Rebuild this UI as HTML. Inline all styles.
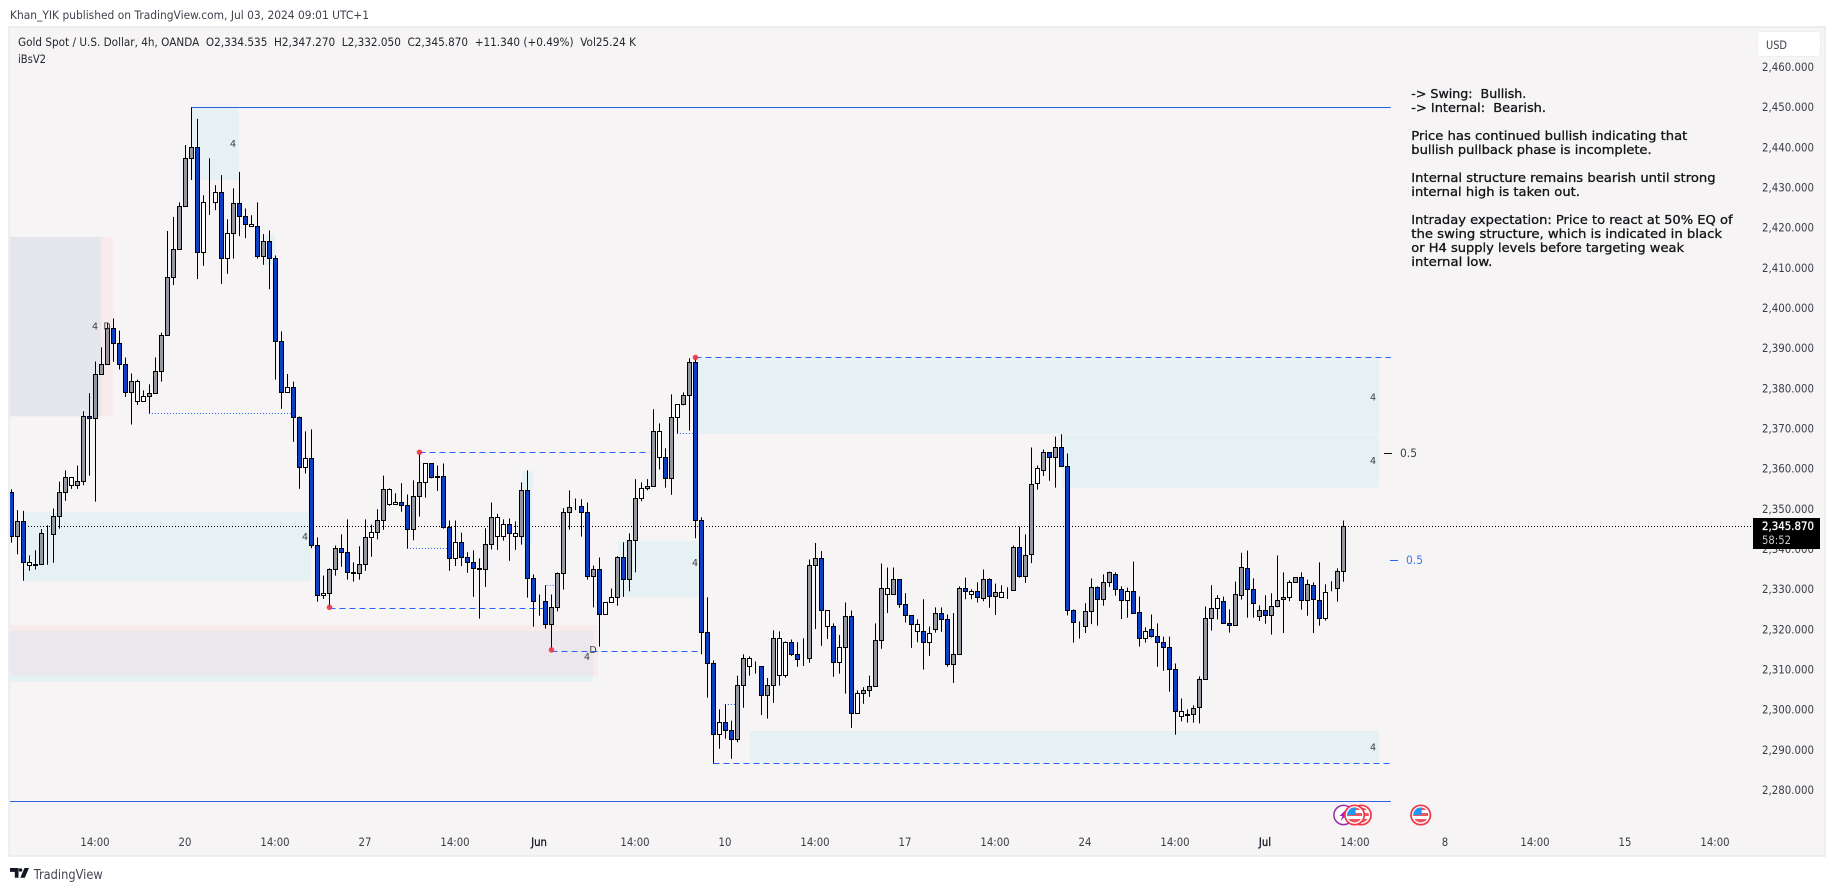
<!DOCTYPE html>
<html lang="en">
<head>
<meta charset="utf-8">
<title>Gold Spot / U.S. Dollar 4h chart</title>
<style>
html,body{margin:0;padding:0;background:#fff;width:1835px;height:891px;overflow:hidden}
svg{display:block;font-family:"DejaVu Sans","Liberation Sans",sans-serif}
text{white-space:pre}
</style>
</head>
<body>
<svg id="chart" xmlns="http://www.w3.org/2000/svg" width="1835" height="891" viewBox="0 0 1835 891">
  <defs>
    <clipPath id="plot-clip"><rect x="10" y="28" width="1743" height="800"/></clipPath>
  </defs>
  <text x="10" y="19" font-size="11.500" fill="#3f424c" textLength="359" lengthAdjust="spacingAndGlyphs">Khan_YIK published on TradingView.com, Jul 03, 2024 09:01 UTC+1</text>
  <rect x="9" y="27" width="1816" height="829" fill="#f6f4f5" stroke="#eceef2" stroke-width="2"/>
  <g id="zones" clip-path="url(#plot-clip)"></g>
  <g id="levels" clip-path="url(#plot-clip)"></g>
  <g id="candles" clip-path="url(#plot-clip)"></g>
  <g id="dots"></g>
  <g id="zone-labels"></g>
  <g id="events"></g>

  <text x="18" y="46" font-size="11.500" fill="#24262e" textLength="618" lengthAdjust="spacingAndGlyphs">Gold Spot / U.S. Dollar, 4h, OANDA  O2,334.535  H2,347.270  L2,332.050  C2,345.870  +11.340 (+0.49%)  Vol25.24 K</text>
  <text x="18" y="63" font-size="11.500" fill="#24262e" textLength="28" lengthAdjust="spacingAndGlyphs">iBsV2</text>

  <g font-size="12.500" fill="#131418" stroke="#131418" stroke-width="0.300">
    <text x="1411.3" y="98" textLength="115" lengthAdjust="spacingAndGlyphs">-&gt; Swing:  Bullish.</text>
    <text x="1411.3" y="112" textLength="134.7" lengthAdjust="spacingAndGlyphs">-&gt; Internal:  Bearish.</text>
    <text x="1411.3" y="140" textLength="276" lengthAdjust="spacingAndGlyphs">Price has continued bullish indicating that</text>
    <text x="1411.3" y="154" textLength="240.3" lengthAdjust="spacingAndGlyphs">bullish pullback phase is incomplete.</text>
    <text x="1411.3" y="182" textLength="304.3" lengthAdjust="spacingAndGlyphs">Internal structure remains bearish until strong</text>
    <text x="1411.3" y="196" textLength="168.7" lengthAdjust="spacingAndGlyphs">internal high is taken out.</text>
    <text x="1411.3" y="224" textLength="321.3" lengthAdjust="spacingAndGlyphs">Intraday expectation: Price to react at 50% EQ of</text>
    <text x="1411.3" y="238" textLength="310.7" lengthAdjust="spacingAndGlyphs">the swing structure, which is indicated in black</text>
    <text x="1411.3" y="252" textLength="272.7" lengthAdjust="spacingAndGlyphs">or H4 supply levels before targeting weak</text>
    <text x="1411.3" y="266" textLength="81" lengthAdjust="spacingAndGlyphs">internal low.</text>
  </g>

  <g>
    <rect x="1384" y="453" width="8" height="1" fill="#111"/>
    <text x="1400" y="457" font-size="11.500" fill="#3f424c" textLength="17" lengthAdjust="spacingAndGlyphs">0.5</text>
  </g>
  <g>
    <rect x="1390" y="560" width="8" height="1" fill="#2962ff"/>
    <text x="1406" y="564" font-size="11.500" fill="#3f74f5" textLength="17" lengthAdjust="spacingAndGlyphs">0.5</text>
  </g>

  <g id="y-axis"></g>
  <g id="x-axis"></g>

  <g>
    <rect x="1757.5" y="31.5" width="63" height="25" rx="3" fill="#fff" stroke="#eceef2"/>
    <text x="1766" y="49" font-size="11.500" fill="#3f424c" textLength="21" lengthAdjust="spacingAndGlyphs">USD</text>
  </g>

  <g>
    <rect x="1753" y="518" width="67" height="31" fill="#000"/>
    <text x="1762" y="530" font-size="11.500" fill="#fff" stroke="#fff" stroke-width="0.300" textLength="52" lengthAdjust="spacingAndGlyphs">2,345.870</text>
    <text x="1762" y="544" font-size="11.500" fill="#c9c9c9" textLength="29" lengthAdjust="spacingAndGlyphs">58:52</text>
  </g>

  <g>
    <path d="M10 868h8.500v9.700h-3.700v-5.800H10z" fill="#131722"/>
    <circle cx="20.500" cy="870" r="1.800" fill="#131722"/>
    <path d="M24.500 868h4.500l-4.200 9.700h-4.500z" fill="#131722"/>
    <text x="33.700" y="879" font-size="13" fill="#434651" textLength="69" lengthAdjust="spacingAndGlyphs">TradingView</text>
  </g>
</svg>

<script>
const candleKinds = ("bgbwbgwggg"+"wggbgggbbb"+"gwwggggggg"+"gbwwwbwgbb"+"wbgbbbwbbw"+
  "bbwggbbbgg"+"wggwwbbggw"+"bbbbwbbbbg"+"gwwbwgbbwb"+"ggggwbbgbw"+
  "wgbggwggwb"+"gwggbbbbwb"+"bggwwbggww"+"bbwggbwbwg"+"bwggggwgbb"+
  "bwbwgbbggb"+"wbgbgwwgbg"+"gwgbgbbbwg"+"gbggbbwbbw"+"bbbbbwbggg"+
  "gwbbggbbgb"+"gggwgbgbbw"+"wgg").split("");

const opens = [
2354.3,2343.4,2347.1,2336.1,2336.4,2336.4,2344.1,2343.9,2348.3,2354.3,
2356.1,2356.1,2357,2373.2,2372.7,2383.7,2386.2,2395.1,2391.4,2386.2,
2379.2,2377,2377,2378.2,2379,2384.4,2393.4,2407.8,2414.8,2425.5,
2437.5,2440.2,2414.1,2426.5,2426.5,2429,2412.6,2418.8,2426.3,2423,
2420.5,2420.5,2413.1,2416.8,2412.6,2391.9,2379.2,2380.5,2373,2360.5,
2362.8,2341.1,2328.7,2329.2,2335.1,2340.4,2339.4,2334.4,2334.1,2336.4,
2343.1,2344.3,2347.3,2351.3,2351.3,2351.8,2351.1,2345.1,2353.3,2356.8,
2361.5,2358.3,2358.3,2345.6,2337.9,2341.9,2338.1,2336.9,2335.4,2335.1,
2341.4,2343.4,2343.4,2346.3,2343.4,2343.4,2354.8,2332.9,2327.2,2327.2,
2321.5,2325.7,2334.2,2349.4,2350.9,2350.9,2349.4,2333.4,2335.1,2323.9,
2326.9,2328.2,2338.1,2332.7,2342.4,2352.8,2355.3,2355.8,2363,2363,
2357.8,2373,2376.2,2378.5,2386.7,2347.3,2319.5,2311.7,2294.1,2297,
2295,2292.8,2306.3,2311,2311,2311,2303.8,2306.3,2308.7,2308.7,
2317,2314,2313,2313,2336.1,2337.9,2320.9,2320.9,2312,2315.7,
2323.4,2299.3,2304.3,2305,2306,2317.5,2328.9,2328.9,2332.6,2326.4,
2323.7,2319.7,2319.7,2317,2320.2,2324.2,2322.7,2311.5,2314,2330.4,
2328.9,2329.7,2327.9,2332.6,2328.4,2328.2,2330.2,2329.9,2340.6,2333.4,
2338.9,2356.5,2359.8,2364.2,2363,2365.5,2360.8,2324.9,2320.9,2320.9,
2324.7,2330.6,2327.7,2331.9,2333.9,2330.1,2327.4,2329.6,2324.4,2317.9,
2320.2,2318.4,2316.9,2315.7,2310.2,2298.5,2299,2299,2300.8,2307.8,
2322.9,2325.4,2327.2,2321.7,2321.2,2328.7,2335.4,2330.1,2323.4,2324.9,
2323.7,2325.9,2327.7,2328.2,2331.9,2333.2,2327.4,2331.1,2327.4,2322.9,
2330.4,2330.4,2334.535];

const highs = [
2355.1,2349.9,2349.7,2338.6,2339.9,2345.2,2346.1,2350.3,2357,2359.8,
2358,2361,2374.5,2379,2386.9,2390.4,2396.6,2397.6,2394.6,2387.9,
2383.9,2382.4,2379.7,2381.2,2387.9,2394.1,2419.4,2422.9,2426.5,2440.8,
2450.2,2447.3,2428.3,2437.5,2430.8,2433.3,2422.3,2430,2434.1,2425,
2423.3,2426.5,2418.6,2419.5,2413.3,2394.4,2383.8,2381.9,2373.2,2369.5,
2370,2343.1,2333.6,2335.4,2341.1,2343.9,2347.6,2336.9,2340.9,2347.6,
2346.3,2350.1,2358.5,2355.3,2354.1,2356.6,2353.8,2357.3,2364.3,2361.5,
2361.5,2361,2361.5,2347.3,2347.3,2344.3,2339.4,2339.9,2337.9,2345.4,
2351.8,2349,2347.6,2347.8,2347.1,2356.8,2359.8,2333.9,2328.9,2331.2,
2328.9,2334.4,2350.4,2354.8,2352.8,2352.6,2351.8,2336.1,2338.1,2326.9,
2330.4,2338.4,2341.9,2344.1,2357.6,2356.8,2357.6,2375,2371.5,2365.3,
2378.7,2376.2,2379.2,2387.7,2387.9,2348.1,2328.2,2312.5,2300.3,2301.5,
2297.5,2308.7,2314,2313.5,2312.2,2311,2308.1,2320,2319.7,2317.2,
2317.7,2317,2318,2337.6,2341.7,2339.7,2324.9,2321.7,2318.8,2326.9,
2324.9,2305,2305.8,2308.7,2321.7,2336.6,2335.6,2335.6,2332.6,2329.2,
2323.7,2322.7,2327.7,2320.9,2325.7,2325.7,2323.9,2324.3,2330.9,2333.1,
2330.2,2331.9,2335.1,2332.9,2331.6,2331.2,2330.7,2341.1,2345.8,2343.9,
2365.5,2361,2365,2364.2,2368.2,2368.8,2364,2325.2,2322.2,2326.7,
2332.9,2330.9,2333.9,2334.6,2334.4,2330.9,2330.6,2337.1,2328.4,2320.7,
2323.9,2321.7,2318.4,2318.4,2311.7,2303,2300.3,2301.3,2308.5,2325.9,
2331.2,2328.7,2328.4,2325.2,2332.1,2339.3,2339.8,2332.9,2326.2,2328.7,
2329.2,2338.6,2334.4,2332.4,2333.2,2334.4,2332.6,2331.9,2336.9,2331.4,
2332.2,2335.4,2347.27];

const lows = [
2341.8,2338.9,2332.3,2334.8,2335.1,2336.4,2336.3,2336.8,2345.3,2352.2,
2355.2,2355.2,2356.1,2358.5,2352,2383.7,2386.2,2386.8,2384.9,2378.1,
2371.2,2376.1,2377,2374,2379,2381.9,2393.4,2405.9,2414.8,2425.5,
2432.1,2407.4,2410.7,2423.4,2424.6,2406.2,2408.7,2412.5,2418.1,2417.6,
2420.5,2412.5,2411,2404.9,2382.4,2375.1,2379.2,2366.9,2355.2,2359,
2340.4,2327.1,2327.8,2325.7,2333.6,2335.8,2332.6,2332.1,2332.6,2334.8,
2338.3,2342.6,2345,2351,2351.3,2349.5,2340.4,2342.4,2348.3,2353,
2357.8,2354.7,2345.3,2334.8,2336,2336,2334.3,2328.3,2322.9,2330.8,
2340.1,2340,2342.3,2337.3,2340,2341.3,2328.1,2320.9,2323.6,2320.4,
2315.1,2324.7,2330.1,2345,2349.9,2343.3,2332.6,2325.7,2315.9,2323.9,
2326.9,2326.1,2328.3,2329.7,2334.4,2352.1,2354.8,2355.8,2360,2355.5,
2353.7,2369,2376,2369.7,2342.9,2314,2303.2,2286.8,2290.5,2293,
2288,2292.1,2300.7,2308.7,2309.2,2298.9,2298,2301.9,2306.2,2308.2,
2313.6,2310.9,2311.1,2311.9,2320.3,2316.1,2317.8,2308.4,2309.2,2304.2,
2295.7,2299.3,2301.7,2303.4,2306,2315.4,2324.3,2328.9,2325.6,2321.9,
2315.6,2317,2310.2,2313.6,2319.4,2319.6,2310.9,2306.9,2314,2327.7,
2327.7,2326.9,2327.2,2325.6,2323.8,2328.2,2327.8,2329.9,2333.1,2331.8,
2336.7,2355,2358.4,2357.2,2355.5,2360.8,2323.7,2316.9,2317.9,2319.3,
2321.5,2321.1,2326.1,2330.8,2328.6,2322.8,2323.1,2324.2,2315.9,2316.9,
2318.2,2310.9,2309.9,2304.7,2294,2297.3,2297,2297,2296.8,2307.8,
2319.9,2322.7,2321.7,2319.4,2321.2,2327.6,2323.1,2323.1,2322.3,2321.6,
2318.9,2325.7,2319.3,2327.2,2331.9,2325.1,2323.6,2319.3,2321.1,2322.4,
2329.7,2327.1,2332.05];

const closes = [
2343.4,2347.1,2336.9,2336.9,2336.1,2344.1,2344.1,2348.3,2354.3,2358,
2358,2357,2373.2,2372.7,2383.7,2386.2,2395.1,2391.4,2386.2,2379.2,
2381.9,2381.9,2378.2,2379,2384.4,2393.4,2407.8,2414.8,2425.5,2437.5,
2440.2,2414.1,2426.5,2426.5,2429,2412.6,2418.8,2426.3,2423,2421,
2421,2413.1,2416.8,2412.6,2391.9,2379.2,2380.5,2373,2360.5,2362.8,
2341.1,2328.7,2329.2,2335.1,2340.4,2339.4,2334.4,2334.1,2336.4,2343.1,
2344.3,2347.3,2355.1,2355.1,2351.8,2351.1,2345.1,2353.3,2356.8,2361.5,
2358,2358,2345.6,2337.9,2341.9,2338.1,2336.9,2335.4,2335.1,2341.4,
2348.1,2348.1,2346.3,2344.1,2344.1,2354.8,2332.9,2327.2,2327.2,2321.5,
2325.7,2334.2,2349.4,2350.6,2350.9,2349.4,2333.4,2335.1,2323.9,2326.9,
2328.2,2338.1,2332.7,2342.4,2352.8,2355.3,2355.8,2369.5,2369.5,2357.8,
2373,2376.2,2378.5,2386.7,2347.3,2319.5,2311.7,2294.1,2297,2295,
2292.8,2306.3,2313,2313,2311,2303.8,2306.3,2318,2318,2317,
2314,2312.7,2313,2336.1,2337.9,2324.9,2324.9,2312,2315.7,2323.4,
2299.3,2304.3,2305,2306,2317.5,2330.4,2330.4,2332.6,2326.4,2323.7,
2321.4,2321.4,2317,2319.2,2324.2,2322.7,2311.5,2314,2330.4,2329.7,
2329.7,2328.2,2332.6,2328.4,2329.4,2329.4,2330.2,2340.6,2333.4,2338.6,
2356.3,2360.3,2364.2,2363,2365.5,2360.8,2324.9,2321.9,2320.9,2324.7,
2330.6,2327.7,2331.9,2334.4,2330.1,2327.4,2329.6,2324.2,2317.9,2319.7,
2318.4,2316.9,2315.7,2310.2,2299.8,2299.8,2298.8,2300.5,2307.8,2322.9,
2325.4,2327.9,2321.7,2321.2,2328.9,2335.6,2330.1,2326.7,2324.9,2323.7,
2325.9,2327.4,2328.2,2331.9,2333.2,2327.4,2331.4,2327.7,2322.9,2329.4,
2330.4,2334.6,2345.87];

const priceTicks = [2460,2450,2440,2430,2420,2410,2400,2390,2380,2370,2360,2350,2340,2330,2320,2310,2300,2290,2280];
const priceTickLabels = ["2,460.000","2,450.000","2,440.000","2,430.000","2,420.000","2,410.000","2,400.000","2,390.000","2,380.000","2,370.000","2,360.000","2,350.000","2,340.000","2,330.000","2,320.000","2,310.000","2,300.000","2,290.000","2,280.000"];

const timeTickBars = [14,29,44,59,74,88,104,119,134,149,164,179,194,209,224,239,254,269,284];
const timeTickLabels = ["14:00","20","14:00","27","14:00","Jun","14:00","10","14:00","17","14:00","24","14:00","Jul","14:00","8","14:00","15","14:00"];

const zoneNames = ["pink-supply-zone","slate-supply-zone","top-demand-zone","small-demand-zone","left-demand-zone","narrow-demand-zone","mid-demand-zone","upper-supply-zone","lower-supply-zone","bottom-demand-zone","left-low-teal-zone","left-low-pink-zone","left-low-overlap-zone"];
const zoneKinds = ["pink","slate","teal","teal","teal","teal","teal","teal","teal","teal","teal","pink","mix"];
const zoneStartBars = [-0.3,-0.3,30.03,42.25,2.08,85.1,101.1,114.25,175.08,123.08,-0.3,-0.3,-0.3];
const zoneEndBars = [16.9,14.9,37.9,43.97,49.9,86.9,114.6,227.9,227.9,227.9,96.9,97.75,96.9];
const zoneTops = [2417.9,2417.9,2450.2,2418.4,2349.4,2359.6,2342.2,2387.7,2368.7,2294.9,2319.8,2321.3,2319.8];
const zoneBottoms = [2373.2,2373.3,2432.1,2410.9,2332.3,2341.3,2328.3,2368.9,2355.5,2287,2307.1,2308.8,2308.8];

const levelKinds = ["solid","solid","dashed","dashed","dashed","dashed","dashed","dotted","dotted","dotted","dotted","dotted"];
const levelPrices = [2450.2,2277.4,2387.9,2364.3,2325.5,2314.7,2286.9,2374,2369,2340.4,2331.2,2301.6];
const levelStartBars = [30,-0.3,114,68,53,90,117,22.9,110.9,65.9,89.2,118.9];
const levelEndBars = [229.9,229.9,229.9,106.4,88.6,114.6,229.9,46.7,113.9,72.6,90.9,120.6];

const swingBars = [53,68,90,114];
const swingPrices = [2325.7,2364.3,2315.1,2387.9];

const lastPrice = 2345.87;

const zoneLabelBars = [37,14,16,49,96,97,114,227,227,227];
const zoneLabelPrices = [2441.2,2395.7,2395.7,2343.3,2313.4,2315.2,2336.9,2378.1,2362.3,2290.9];
const zoneLabelTexts = ["4","4","D","4","4","D","4","4","4","4"];

const eventBars = [222,224.97,223.85,234.87];
const eventKinds = ["bolt","flag","flag","flag"];

const SVG_NS = "http://www.w3.org/2000/svg";

function barX(bar) {
  return 11.5 + 6 * bar;
}
function priceY(price) {
  return 526.3 - (price - 2345.87) * 4.0167;
}
function snap(v) {
  return Math.floor(v) + 0.5;
}
function make(tag, attrs, parent) {
  const el = document.createElementNS(SVG_NS, tag);
  Object.keys(attrs).forEach(function (k) { el.setAttribute(k, attrs[k]); });
  parent.appendChild(el);
  return el;
}

const zoneFills = { teal: "#e6f1f3", pink: "#f8ebec", slate: "#e6e7ec", mix: "#ece7ec" };
const zonesLayer = document.getElementById("zones");
zoneKinds.forEach(function (kind, i) {
  const top = priceY(zoneTops[i]);
  const bottom = priceY(zoneBottoms[i]);
  const left = barX(zoneStartBars[i]);
  const right = barX(zoneEndBars[i]);
  const el = make("rect", { x: left, y: top, width: right - left, height: bottom - top, fill: zoneFills[kind] }, zonesLayer);
  
  
});

const levelsLayer = document.getElementById("levels");
const lastLine = make("line", { x1: 10, x2: 1753, y1: snap(priceY(lastPrice)), y2: snap(priceY(lastPrice)), stroke: "#000", "stroke-width": 1, "stroke-dasharray": "1 2" }, levelsLayer);



const levelDash = { solid: "none", dashed: "6 4", dotted: "1 2" };
const levelColors = { solid: "#2f62de", dashed: "#2962ff", dotted: "#2962ff" };
levelKinds.forEach(function (kind, i) {
  const y = snap(priceY(levelPrices[i]));
  const el = make("line", { x1: barX(levelStartBars[i]), x2: barX(levelEndBars[i]), y1: y, y2: y, stroke: levelColors[kind], "stroke-width": 1, "stroke-dasharray": levelDash[kind] }, levelsLayer);
  
  
});

const candleFills = { g: "#9598a1", b: "#0d3fc4", w: "#ffffff" };
const candleNames = { g: "gray", b: "blue", w: "white" };
const candlesLayer = document.getElementById("candles");
candleKinds.forEach(function (kind, i) {
  const cx = barX(i);
  const g = make("g", {}, candlesLayer);
  
  
  const wick = make("line", { x1: cx, x2: cx, y1: priceY(highs[i]), y2: priceY(lows[i]), stroke: "#000", "stroke-width": 1 }, g);
  
  
  const bodyTop = snap(priceY(Math.max(opens[i], closes[i])));
  const bodyBottom = snap(priceY(Math.min(opens[i], closes[i])));
  const body = make("rect", { x: cx - 2, y: bodyTop, width: 4, height: bodyBottom - bodyTop, fill: candleFills[kind], stroke: "#000", "stroke-width": 1 }, g);
  
  
});

const dotsLayer = document.getElementById("dots");
swingBars.forEach(function (bar, i) {
  const el = make("circle", { cx: barX(bar), cy: priceY(swingPrices[i]), r: 2.8, fill: "#f23645", opacity: 0.9 }, dotsLayer);
  
  
});

const labelsLayer = document.getElementById("zone-labels");
zoneLabelTexts.forEach(function (txt, i) {
  const el = make("text", { x: barX(zoneLabelBars[i]) - 0.5, y: priceY(zoneLabelPrices[i]) + 3.5, "font-size": 9.5, "text-anchor": "middle", fill: "#3a3d46" }, labelsLayer);
  el.textContent = txt;
  
  
});

const eventsLayer = document.getElementById("events");
eventBars.forEach(function (bar, i) {
  const cx = barX(bar);
  const cy = 815;
  const g = make("g", {}, eventsLayer);
  if (eventKinds[i] === "bolt") {
    
    
    make("circle", { cx: cx, cy: cy, r: 9.6, fill: "#fff", stroke: "#9c27b0", "stroke-width": 1.5 }, g);
    make("path", { d: "M" + (cx + 2) + " " + (cy - 5) + "l-6 6h3l-2 5l7 -7h-3z", fill: "#9c27b0" }, g);
    return;
  }
  
  
  const clipId = "flag-clip-" + i;
  const defs = make("clipPath", { id: clipId }, g);
  make("circle", { cx: cx, cy: cy, r: 7.5 }, defs);
  make("circle", { cx: cx, cy: cy, r: 9.7, fill: "#fff", stroke: "#f23645", "stroke-width": 1.7 }, g);
  const flag = make("g", { "clip-path": "url(#" + clipId + ")" }, g);
  make("rect", { x: cx - 8, y: cy - 8, width: 16, height: 3, fill: "#f0555f" }, flag);
  make("rect", { x: cx - 8, y: cy - 2, width: 16, height: 3, fill: "#f0555f" }, flag);
  make("rect", { x: cx - 8, y: cy + 4, width: 16, height: 4, fill: "#f0555f" }, flag);
  make("rect", { x: cx - 8, y: cy - 8, width: 9, height: 8, fill: "#2196f3" }, flag);
});

const yAxis = document.getElementById("y-axis");
priceTicks.forEach(function (price, i) {
  const el = make("text", { x: 1762, y: priceY(price) + 3.2, "font-size": 11.5, fill: "#3a3d46", textLength: 52, lengthAdjust: "spacingAndGlyphs" }, yAxis);
  el.textContent = priceTickLabels[i];
  
  
});

const xAxis = document.getElementById("x-axis");
timeTickBars.forEach(function (bar, i) {
  const label = timeTickLabels[i];
  const isMonth = label === "Jun" || label === "Jul";
  const el = make("text", { x: barX(bar) - 0.5, y: 846, "font-size": 11.5, "text-anchor": "middle", fill: isMonth ? "#131722" : "#3a3d46", stroke: isMonth ? "#131722" : "none", "stroke-width": 0.3 }, xAxis);
  el.textContent = label;
  
  
  el.setAttribute("textLength", el.getComputedTextLength() * 0.88);
  el.setAttribute("lengthAdjust", "spacingAndGlyphs");
});
</script>
</body>
</html>
